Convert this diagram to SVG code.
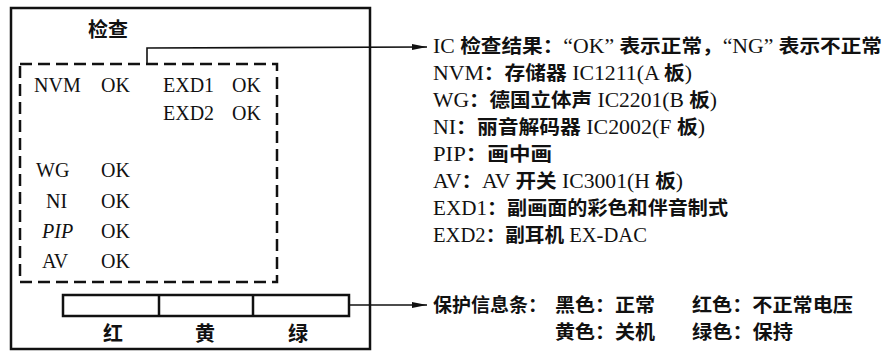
<svg xmlns="http://www.w3.org/2000/svg" width="891" height="352" viewBox="0 0 891 352">
<style>
text{font-family:"Liberation Serif","Noto Sans CJK SC",serif;font-size:20px;fill:#111}
.c{font-family:"Noto Sans CJK SC",sans-serif;font-weight:bold}
.l .c{font-size:19px}
.frame{fill:none;stroke:#111;stroke-width:2.5}
.dash{fill:none;stroke:#111;stroke-width:2.5;stroke-dasharray:12 6}
.conn{fill:none;stroke:#111;stroke-width:1.6}
</style>
<defs>
<marker id="arr" markerWidth="16" markerHeight="8" refX="15" refY="4" orient="auto" markerUnits="userSpaceOnUse">
<path d="M0,1 L15,4 L0,7 Z" fill="#111"/>
</marker>
</defs>
<rect width="891" height="352" fill="#fff"/>
<g id="panel">
<rect class="frame" x="11" y="8" width="359" height="341"/>
<text class="c" x="88" y="37">检查</text>
</g>
<g id="ic-check">
<rect class="dash" x="20" y="64" width="257" height="218"/>
<text x="34" y="92">NVM</text><text x="101" y="92">OK</text>
<text x="163" y="92">EXD1</text><text x="232" y="92">OK</text>
<text x="163" y="120">EXD2</text><text x="232" y="120">OK</text>
<text x="36" y="177">WG</text><text x="101" y="177">OK</text>
<text x="46" y="208">NI</text><text x="101" y="208">OK</text>
<text x="42" y="238" font-style="italic">PIP</text><text x="101" y="238">OK</text>
<text x="42" y="268">AV</text><text x="101" y="268">OK</text>
</g>
<g id="protect-bar">
<rect class="frame" x="63" y="295" width="286" height="21"/>
<line class="frame" x1="159" y1="295" x2="159" y2="316"/>
<line class="frame" x1="253" y1="295" x2="253" y2="316"/>
<text class="c" x="113" y="341" text-anchor="middle">红</text>
<text class="c" x="205" y="341" text-anchor="middle">黄</text>
<text class="c" x="298" y="341" text-anchor="middle">绿</text>
</g>
<g id="connectors">
<polyline class="conn" points="147,64 147,48 427,47" marker-end="url(#arr)"/>
<line class="conn" x1="349" y1="305" x2="427" y2="305" marker-end="url(#arr)"/>
</g>
<g id="ic-legend" class="l">
<text x="433" y="53" textLength="449" lengthAdjust="spacingAndGlyphs">IC <tspan class="c">检查结果：</tspan>“OK” <tspan class="c">表示正常，</tspan>“NG” <tspan class="c">表示不正常</tspan></text>
<text x="433" y="80" textLength="259" lengthAdjust="spacingAndGlyphs">NVM<tspan class="c">：存储器</tspan> IC1211(A <tspan class="c">板</tspan>)</text>
<text x="433" y="107" textLength="284" lengthAdjust="spacingAndGlyphs">WG<tspan class="c">：德国立体声</tspan> IC2201(B <tspan class="c">板</tspan>)</text>
<text x="433" y="134" textLength="272" lengthAdjust="spacingAndGlyphs">NI<tspan class="c">：丽音解码器</tspan> IC2002(F <tspan class="c">板</tspan>)</text>
<text x="433" y="161" textLength="119" lengthAdjust="spacingAndGlyphs">PIP<tspan class="c">：画中画</tspan></text>
<text x="433" y="188" textLength="250" lengthAdjust="spacingAndGlyphs">AV<tspan class="c">：</tspan>AV <tspan class="c">开关</tspan> IC3001(H <tspan class="c">板</tspan>)</text>
<text x="433" y="215" textLength="295" lengthAdjust="spacingAndGlyphs">EXD1<tspan class="c">：副画面的彩色和伴音制式</tspan></text>
<text x="433" y="242" textLength="214" lengthAdjust="spacingAndGlyphs">EXD2<tspan class="c">：副耳机</tspan> EX-DAC</text>
</g>
<g id="bar-legend" class="l">
<text x="433" y="312"><tspan class="c">保护信息条：</tspan></text>
<text x="555" y="312" textLength="100" lengthAdjust="spacingAndGlyphs"><tspan class="c">黑色：正常</tspan></text>
<text x="692" y="312" textLength="161" lengthAdjust="spacingAndGlyphs"><tspan class="c">红色：不正常电压</tspan></text>
<text x="555" y="339" textLength="100" lengthAdjust="spacingAndGlyphs"><tspan class="c">黄色：关机</tspan></text>
<text x="692" y="339" textLength="101" lengthAdjust="spacingAndGlyphs"><tspan class="c">绿色：保持</tspan></text>
</g>
</svg>
